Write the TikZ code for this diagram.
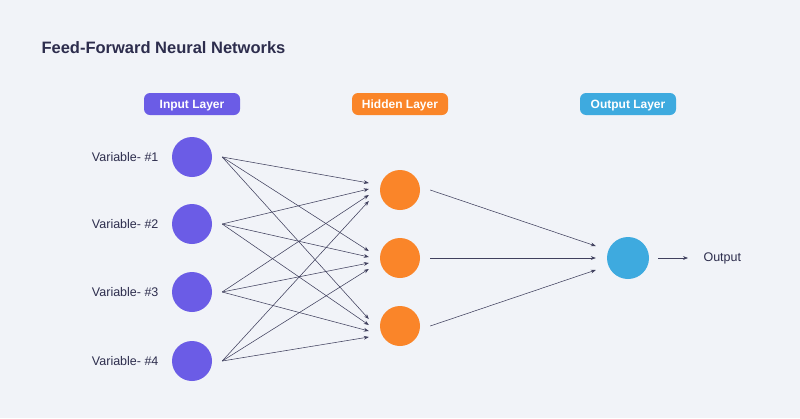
\documentclass[tikz,border=0pt]{standalone}
\usepackage{fontspec}
\setmainfont{Liberation Sans}
\usetikzlibrary{arrows.meta}

\definecolor{bgcol}{HTML}{F1F3F8}
\definecolor{inputcol}{HTML}{6B5CE6}
\definecolor{hiddencol}{HTML}{FA8529}
\definecolor{outputcol}{HTML}{3EAADF}
\definecolor{inkcol}{HTML}{2D2D4D}
\definecolor{wirecol}{HTML}{40405E}

\tikzset{
    neuron/.style={circle, minimum size=40pt, inner sep=0pt},
    pill/.style={rounded corners=6pt, minimum width=96pt, minimum height=22pt,
        inner sep=0pt, text height=8.6pt, text depth=0pt, text=white,
        font=\bfseries\fontsize{12}{14}\selectfont},
    varlabel/.style={text=inkcol, font=\fontsize{12.5}{14}\selectfont, anchor=east},
    wire/.style={wirecol, line width=0.55pt, -{Stealth[length=5pt,width=3.8pt]}}
}

\begin{document}
\begin{tikzpicture}[x=1pt, y=-1pt]
    \fill[bgcol] (0,0) rectangle (800,418);
    \useasboundingbox (0,0) rectangle (800,418);

    % title
    \node[anchor=west, text=inkcol, font=\bfseries\fontsize{16.5}{19}\selectfont] (title) at (38,48) {Feed-Forward Neural Networks};

    % layer headers
    \node[pill, fill=inputcol] (inhead) at (192,104) {Input Layer};
    \node[pill, fill=hiddencol] (hidhead) at (400,104) {Hidden Layer};
    \node[pill, fill=outputcol] (outhead) at (628,104) {Output Layer};

    % input layer
    \foreach \i/\y in {1/157, 2/224, 3/292, 4/361} {
        \node[neuron, fill=inputcol] (in\i) at (192,\y) {};
        \node[varlabel] (var\i) at (162,\y) {Variable- \#\i};
    }

    % hidden layer
    \foreach \j/\y in {1/190, 2/258, 3/326}
        \node[neuron, fill=hiddencol] (hid\j) at (400,\y) {};

    % output layer
    \node[neuron, fill=outputcol, minimum size=42pt] (out) at (628,258) {};
    \node[anchor=west, text=inkcol, font=\fontsize{12.5}{14}\selectfont] (outlabel) at (700,258) {Output};

    % input -> hidden
    \foreach \i in {1,...,4}
        \foreach \j in {1,2,3}
            \draw[wire] ([xshift=10pt]in\i.east) -- ([xshift=-11pt, yshift={7-6*(\i-1)}]hid\j.west);

    % hidden -> output
    \foreach \j in {1,2,3}
        \draw[wire] ([xshift=10pt]hid\j.east) -- ([xshift=-11pt, yshift={12*(2-\j)}]out.west);

    \draw[wire] ([xshift=9pt]out.east) -- ([xshift=-12pt]outlabel.west);
\end{tikzpicture}
\end{document}
